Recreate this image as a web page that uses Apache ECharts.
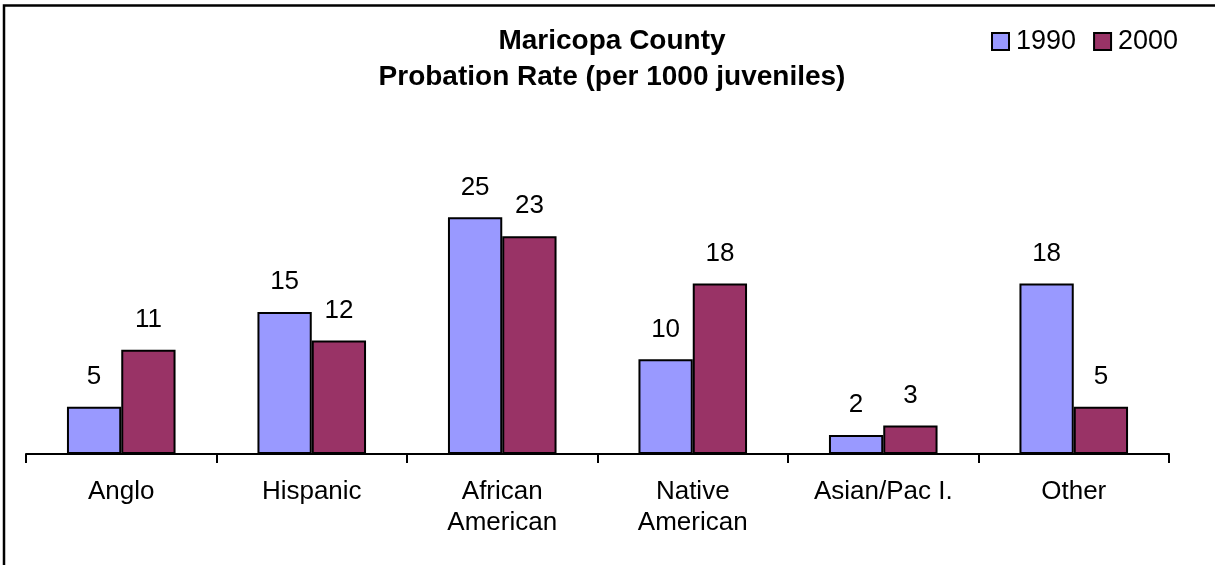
<!DOCTYPE html>
<html>
<head>
<meta charset="utf-8">
<title>Maricopa County Probation Rate</title>
<script src="https://cdn.jsdelivr.net/npm/echarts@6/dist/echarts.min.js"></script>
<style>
  html, body { margin: 0; padding: 0; background: #fff; }
  #chart { width: 1215px; height: 565px; }
</style>
</head>
<body>
<div id="chart"></div>
<script>
// Probation rate per 1000 juveniles, by group
const categories = ['Anglo', 'Hispanic', 'African\nAmerican', 'Native\nAmerican', 'Asian/Pac I.', 'Other'];
const years = ['1990', '2000'];
const rate1990 = [5, 15, 25, 10, 2, 18];
const rate2000 = [11, 12, 23, 18, 3, 5];

const FONT = '"Liberation Sans", Arial, sans-serif';
const colors = { '1990': '#9999FF', '2000': '#993366' };

function barSeries(name, values) {
  return {
    name: name,
    type: 'bar',
    data: values,
    barGap: '0%',
    barCategoryGap: '43%',
    itemStyle: { color: colors[name], borderColor: '#000', borderWidth: 2 },
    label: {
      show: true,
      position: 'top',
      distance: 17,
      color: '#000',
      fontFamily: FONT,
      fontSize: 26
    },
    emphasis: { disabled: true },
    animation: false
  };
}

const chart = echarts.init(document.getElementById('chart'));
chart.setOption({
  backgroundColor: '#fff',
  animation: false,
  title: {
    text: 'Maricopa County\nProbation Rate (per 1000 juveniles)',
    left: 612,
    textAlign: 'center',
    top: 23,
    padding: 0,
    textStyle: {
      fontFamily: FONT,
      fontSize: 28,
      fontWeight: 'bold',
      color: '#000',
      lineHeight: 36
    }
  },
  legend: {
    data: years,
    left: 986,
    top: 23,
    itemWidth: 17,
    itemHeight: 17,
    itemGap: 17,
    icon: 'rect',
    selectedMode: false,
    textStyle: { fontFamily: FONT, fontSize: 27, color: '#000', padding: [0, 0, 0, 2] },
    itemStyle: { borderColor: '#000', borderWidth: 2 }
  },
  grid: { left: 26, right: 46, top: 170, bottom: 111, containLabel: false },
  xAxis: {
    type: 'category',
    data: categories,
    axisLine: { lineStyle: { color: '#000', width: 2 } },
    axisTick: { show: true, length: 9, lineStyle: { color: '#000', width: 2 } },
    axisLabel: {
      color: '#000',
      fontFamily: FONT,
      fontSize: 26,
      lineHeight: 31,
      margin: 22,
      interval: 0
    }
  },
  yAxis: {
    type: 'value',
    min: 0,
    max: 30,
    show: false,
    splitLine: { show: false }
  },
  series: [barSeries('1990', rate1990), barSeries('2000', rate2000)],
  graphic: [{
    type: 'rect',
    silent: true,
    shape: { x: 4, y: 5.5, width: 1400, height: 800 },
    style: { fill: 'none', stroke: '#000', lineWidth: 2.5 }
  }]
});
</script>
</body>
</html>
